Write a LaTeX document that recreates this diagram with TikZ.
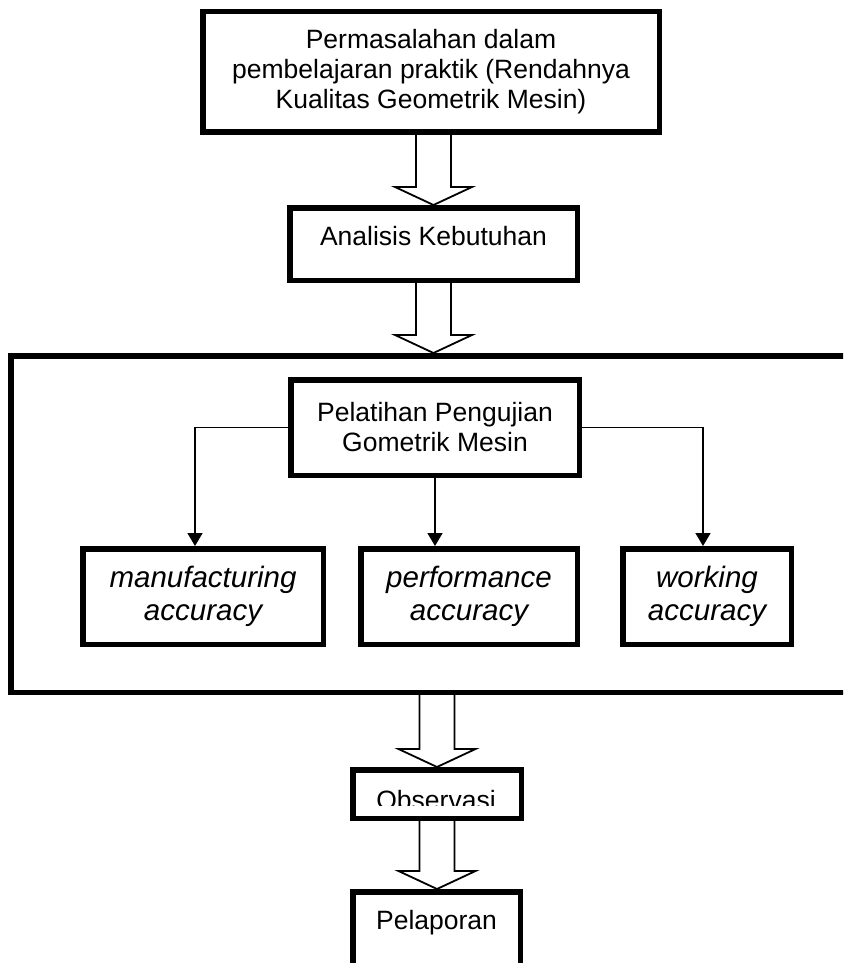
\documentclass[tikz,border=0pt]{standalone}
\usepackage{fontspec}
\setmainfont{Liberation Sans}
\usetikzlibrary{arrows.meta,calc}

% hollow block arrow: #1 start of shaft, #2 tip
\newcommand{\blockarrow}[2]{%
  \draw[hollow] let \p1=(#1), \p2=(#2) in
    (\x2-17.5pt,\y1) -- (\x2-17.5pt,\y2+18pt) -- (\x2-38.5pt,\y2+18pt) -- (\x2,\y2)
    -- (\x2+38.5pt,\y2+18pt) -- (\x2+17.5pt,\y2+18pt) -- (\x2+17.5pt,\y1);
}

\begin{document}
\begin{tikzpicture}[x=1pt,y=-1pt,
    box/.style = {draw, line width=5.5pt, align=center, inner sep=0pt,
                  font=\fontsize{26.5}{30}\selectfont},
    itbox/.style = {box, font=\fontsize{29.5}{33.5}\selectfont\itshape},
    hollow/.style = {line width=1.8pt, line join=miter},
    branch/.style = {line width=1.6pt, -{Triangle[width=15pt,length=13pt]}}
  ]
  \fill[white] (0,0) rectangle (843,963);
  \clip (0,0) rectangle (843,963);

  \node[box, minimum width=456.5pt, minimum height=120.5pt] (masalah) at (431,72)
    {Permasalahan dalam\\pembelajaran praktik (Rendahnya\\Kualitas Geometrik Mesin)};
  \node[box, minimum width=287.5pt, minimum height=72.5pt,
        text height=19pt, text depth=17pt] (analisis) at (433.5,244) {Analisis Kebutuhan};

  \node[box, minimum width=866.5pt, minimum height=336.5pt] (frame) at (444,524) {};
  \node[box, minimum width=288.5pt, minimum height=95.5pt] (pelatihan) at (435,427.5)
    {Pelatihan Pengujian\\Gometrik Mesin};
  \node[itbox, minimum width=240.5pt, minimum height=95.5pt] (manuf) at (203,596.5)
    {manufacturing\\accuracy};
  \node[itbox, minimum width=216.5pt, minimum height=95.5pt] (perf)  at (469,596.5)
    {performance\\accuracy};
  \node[itbox, minimum width=168.5pt, minimum height=95.5pt] (work)  at (707,596.5)
    {working\\accuracy};

  \node[box, minimum width=168.5pt, minimum height=48.5pt] (obs) at (437,794) {};
  \begin{scope}
    \clip (350,773) rectangle (524,805);
    \node[font=\fontsize{26.5}{30}\selectfont, inner sep=0pt, anchor=base] (obs_text)
      at (436,809) {Observasi};
  \end{scope}
  \node[box, minimum width=167.5pt, minimum height=94.5pt,
        text height=19pt, text depth=39pt] (lapor) at (436.5,939) {Pelaporan};

  \draw[branch] (pelatihan.west) -| ([xshift=-8pt]manuf.north);
  \draw[branch] (pelatihan.south) -- (pelatihan.south |- perf.north);
  \draw[branch] (pelatihan.east) -| ([xshift=-4pt]work.north);

  \blockarrow{masalah.south -| analisis.north}{analisis.north}
  \blockarrow{analisis.south}{analisis.south |- frame.north}
  \blockarrow{frame.south -| obs.north}{obs.north}
  \blockarrow{obs.south}{obs.south |- lapor.north}
\end{tikzpicture}
\end{document}
